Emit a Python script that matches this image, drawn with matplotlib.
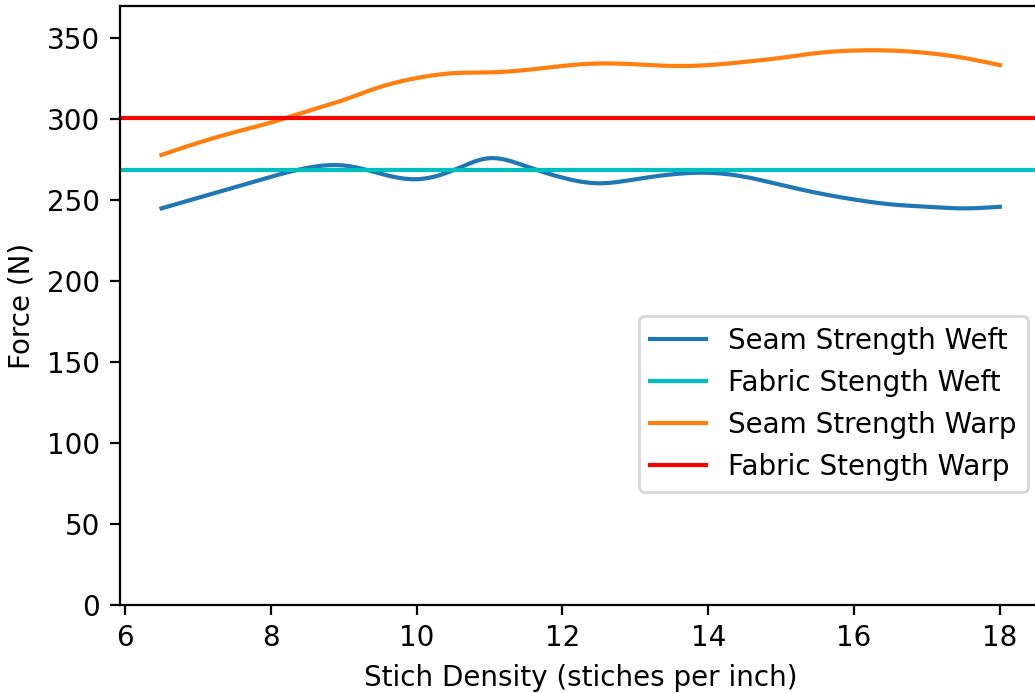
import numpy as np
import matplotlib
matplotlib.use("Agg")
import matplotlib.pyplot as plt

# Densidad de puntada (puntadas por pulgada)
stitch_density = [6.5, 7.0, 7.5, 8.0, 8.5, 9.0, 9.5, 10.0, 10.5, 11.0, 11.5, 12.0,
                  12.5, 13.0, 13.5, 14.0, 14.5, 15.0, 15.5, 16.0, 16.5, 17.0, 17.5, 18.0]

# Resistencia de costura (N)
seam_weft = [245, 251.5, 258, 264.5, 270, 271.5, 266.5, 263, 268.5, 276, 271, 264,
             260.5, 263, 266, 267, 264.5, 259.5, 254.5, 250.5, 247.5, 246, 245, 246]
seam_warp = [278, 285.5, 292, 298, 305, 312, 320, 325.5, 328.5, 329, 330.5, 333,
             334.5, 334, 333, 333.5, 335.5, 338, 341, 342.5, 342.5, 341, 338, 333.5]

# Resistencia de la tela (N)
fabric_weft = 269
fabric_warp = 301


# Spline cubico natural para suavizar las curvas
def natural_spline(x, y, n=400):
    x = np.asarray(x, float)
    y = np.asarray(y, float)
    m = len(x)
    h = np.diff(x)
    A = np.zeros((m, m))
    b = np.zeros(m)
    A[0, 0] = A[-1, -1] = 1
    for i in range(1, m - 1):
        A[i, i - 1] = h[i - 1]
        A[i, i] = 2 * (h[i - 1] + h[i])
        A[i, i + 1] = h[i]
        b[i] = 6 * ((y[i + 1] - y[i]) / h[i] - (y[i] - y[i - 1]) / h[i - 1])
    M = np.linalg.solve(A, b)
    xs = np.linspace(x[0], x[-1], n)
    k = np.clip(np.searchsorted(x, xs) - 1, 0, m - 2)
    t0 = xs - x[k]
    t1 = x[k + 1] - xs
    hk = h[k]
    ys = (M[k] * t1**3 + M[k + 1] * t0**3) / (6 * hk) \
        + (y[k] / hk - M[k] * hk / 6) * t1 + (y[k + 1] / hk - M[k + 1] * hk / 6) * t0
    return xs, ys


fig = plt.figure(figsize=(5.175, 3.465), dpi=200)
ax = fig.add_axes([0.1155, 0.127, 0.891, 0.8643])

xs, ys = natural_spline(stitch_density, seam_weft)
ax.plot(xs, ys, color="#1f77b4", label="Seam Strength Weft")
ax.axhline(fabric_weft, color="c", label="Fabric Stength Weft")
xs, ys = natural_spline(stitch_density, seam_warp)
ax.plot(xs, ys, color="#ff7f0e", label="Seam Strength Warp")
ax.axhline(fabric_warp, color="r", label="Fabric Stength Warp")

ax.set_xlim(5.925, 18.575)
ax.set_ylim(0, 370)
ax.set_xticks([6, 8, 10, 12, 14, 16, 18])
ax.set_xlabel("Stich Density (stiches per inch)")
ax.set_ylabel("Force (N)")
ax.legend(loc="center right", bbox_to_anchor=(1, 0.336))

plt.savefig("out.png", dpi=200)
